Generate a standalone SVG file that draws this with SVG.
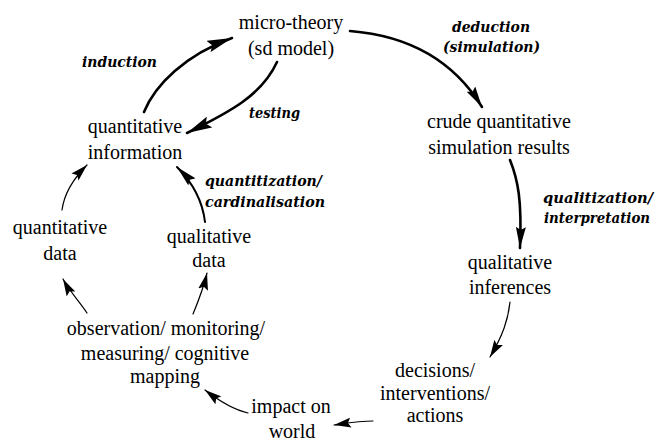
<svg xmlns="http://www.w3.org/2000/svg" width="655" height="441" viewBox="0 0 655 441">
<style>
.t{font-size:20px;fill:#000;text-anchor:middle}
.l{font-size:14px;font-weight:bold;font-style:italic;fill:#000}
.c{fill:none;stroke:#000;stroke-linecap:round}
.k{stroke-width:2.6}
.m{stroke-width:2}
.s{stroke-width:1.2}
</style>
<defs>
<marker id="hb" markerUnits="userSpaceOnUse" viewBox="0 0 26 12" markerWidth="26" markerHeight="12" refX="25" refY="6" orient="auto"><path d="M0,0 L25,6 L0,12 L4,6z" fill="#000"/></marker>
<marker id="hm" markerUnits="userSpaceOnUse" viewBox="0 0 22 10" markerWidth="22" markerHeight="10" refX="21" refY="5" orient="auto"><path d="M0,0 L21,5 L0,10 L3,5z" fill="#000"/></marker>
<marker id="hs" markerUnits="userSpaceOnUse" viewBox="0 0 18 10" markerWidth="18" markerHeight="10" refX="17" refY="5" orient="auto"><path d="M0,0 L17,5 L0,10 L3,5z" fill="#000"/></marker>
</defs>
<g id="connectors">
<path class="c k" d="M144,112 C155,85 185,55 232,38" marker-end="url(#hb)"/>
<path class="c k" d="M277,62 C262,95 230,112 187,133" marker-end="url(#hb)"/>
<path class="c k" d="M350,31 C400,35 450,55 482,107" marker-end="url(#hm)"/>
<path class="c k" d="M510,160 C518,180 522,200 520,248" marker-end="url(#hm)"/>
<path class="c s" d="M510,302 C508,320 503,335 490,357" marker-end="url(#hs)"/>
<path class="c s" d="M373,421 C360,421 348,423 334,425" marker-end="url(#hs)"/>
<path class="c s" d="M248,413 C235,410 218,400 205,390" marker-end="url(#hs)"/>
<path class="c s" d="M87,313 C80,302 70,292 63,279" marker-end="url(#hs)"/>
<path class="c s" d="M193,314 C198,302 203,290 207,273" marker-end="url(#hs)"/>
<path class="c s" d="M62,210 C64,195 72,180 87,165" marker-end="url(#hs)"/>
<path class="c m" d="M205,222 C203,205 195,185 177,167" marker-end="url(#hm)"/>
</g>
<g id="labels" font-family="DejaVu Serif, Liberation Serif, serif">
<text class="l" x="82" y="67" textLength="75" lengthAdjust="spacingAndGlyphs">induction</text>
<text class="l" x="249" y="118" textLength="51" lengthAdjust="spacingAndGlyphs">testing</text>
<text class="l" x="452" y="32" textLength="78" lengthAdjust="spacingAndGlyphs">deduction</text>
<text class="l" x="443" y="52" textLength="97" lengthAdjust="spacingAndGlyphs">(simulation)</text>
<text class="l" x="543" y="203" textLength="110" lengthAdjust="spacingAndGlyphs">qualitization/</text>
<text class="l" x="544" y="223" textLength="106" lengthAdjust="spacingAndGlyphs">interpretation</text>
<text class="l" x="205" y="186" textLength="117" lengthAdjust="spacingAndGlyphs">quantitization/</text>
<text class="l" x="205" y="207" textLength="120" lengthAdjust="spacingAndGlyphs">cardinalisation</text>
</g>
<g id="nodes" font-family="Liberation Serif, Times New Roman, serif">
<g id="micro-theory"><text class="t" x="291" y="29">micro-theory</text><text class="t" x="291" y="55">(sd model)</text></g>
<g id="quantitative-information"><text class="t" x="135" y="133">quantitative</text><text class="t" x="135" y="159">information</text></g>
<g id="crude-results"><text class="t" x="499" y="128">crude quantitative</text><text class="t" x="499" y="154">simulation results</text></g>
<g id="qualitative-inferences"><text class="t" x="510" y="269">qualitative</text><text class="t" x="510" y="294">inferences</text></g>
<g id="decisions"><text class="t" x="435" y="377">decisions/</text><text class="t" x="435" y="400">interventions/</text><text class="t" x="435" y="422">actions</text></g>
<g id="impact"><text class="t" x="291" y="413">impact on</text><text class="t" x="292" y="438">world</text></g>
<g id="observation"><text class="t" x="166" y="335">observation/ monitoring/</text><text class="t" x="165" y="360">measuring/ cognitive</text><text class="t" x="165" y="383">mapping</text></g>
<g id="quantitative-data"><text class="t" x="60" y="234">quantitative</text><text class="t" x="60" y="260">data</text></g>
<g id="qualitative-data"><text class="t" x="209" y="243">qualitative</text><text class="t" x="209" y="267">data</text></g>
</g>
</svg>
